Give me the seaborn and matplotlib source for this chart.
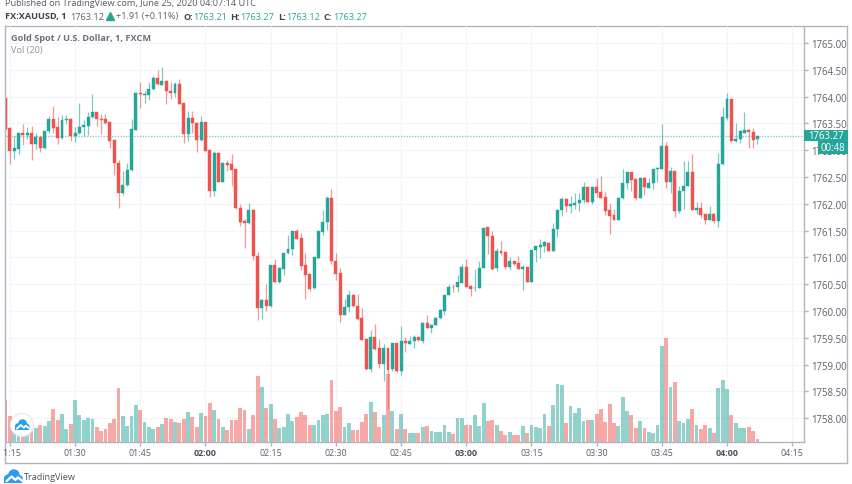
"""Gold spot 1-minute candlesticks with volume, TradingView snapshot style."""

import matplotlib
matplotlib.use("Agg")
import matplotlib.pyplot as plt
from matplotlib.patches import Circle, Rectangle
import numpy as np
import pandas as pd
import seaborn as sns

opens = [
    1763.98, 1763.41, 1762.99, 1763.02, 1763.33, 1763.29, 1763.32, 1763.11, 1763.24, 1763.05,
    1763.35, 1763.58, 1763.43, 1763.22, 1763.57, 1763.58, 1763.27, 1763.32, 1763.43, 1763.46,
    1763.61, 1763.71, 1763.58, 1763.58, 1763.53, 1763.19, 1762.77, 1762.20, 1762.35, 1762.63,
    1763.38, 1764.06, 1764.03, 1764.03, 1764.14, 1764.34, 1764.22, 1764.30, 1764.10, 1764.07,
    1764.24, 1763.88, 1763.30, 1763.60, 1763.50, 1763.19, 1763.52, 1763.00, 1762.23, 1762.94,
    1762.41, 1762.76, 1762.74, 1762.64, 1761.92, 1761.67, 1761.64, 1761.89, 1761.02, 1760.05,
    1760.21, 1760.10, 1760.85, 1760.54, 1760.79, 1761.08, 1761.15, 1761.49, 1761.36, 1760.85,
    1760.69, 1760.42, 1760.99, 1761.48, 1761.66, 1762.11, 1760.94, 1760.70, 1759.93, 1760.08,
    1760.29, 1760.10, 1759.87, 1759.47, 1758.92, 1759.51, 1759.31, 1759.01, 1759.31, 1758.91,
    1759.41, 1758.88, 1759.44, 1759.39, 1759.44, 1759.52, 1759.44, 1759.78, 1759.69, 1759.74,
    1759.87, 1760.00, 1760.30, 1760.45, 1760.44, 1760.53, 1760.82, 1760.47, 1760.42, 1760.43,
    1760.80, 1761.56, 1761.40, 1760.81, 1761.12, 1761.10, 1760.83, 1760.93, 1760.89, 1760.79,
    1760.83, 1760.55, 1761.13, 1761.19, 1761.22, 1761.27, 1761.12, 1761.53, 1761.88, 1762.09,
    1761.95, 1761.98, 1762.01, 1762.07, 1762.32, 1762.04, 1762.32, 1762.22, 1762.13, 1761.88,
    1761.80, 1761.70, 1762.11, 1762.38, 1762.59, 1762.46, 1762.11, 1762.49, 1762.30, 1762.38,
    1762.64, 1762.65, 1763.08, 1762.40, 1762.62, 1761.87, 1762.24, 1762.34, 1762.60, 1761.88,
    1761.92, 1761.81, 1761.70, 1761.81, 1761.67, 1762.74, 1763.60, 1763.96, 1763.17, 1763.20,
    1763.33, 1763.37, 1763.34, 1763.21,
]
highs = [
    1763.98, 1763.43, 1763.27, 1763.33, 1763.49, 1763.43, 1763.45, 1763.33, 1763.27, 1763.35,
    1763.63, 1763.82, 1763.61, 1763.66, 1763.65, 1763.60, 1763.43, 1763.88, 1763.57, 1763.72,
    1764.05, 1763.72, 1763.68, 1763.68, 1763.55, 1763.19, 1762.81, 1762.62, 1762.77, 1763.58,
    1764.08, 1764.27, 1764.11, 1764.27, 1764.38, 1764.50, 1764.55, 1764.31, 1764.27, 1764.28,
    1764.33, 1763.88, 1763.74, 1763.74, 1763.53, 1763.63, 1763.52, 1763.00, 1762.99, 1762.96,
    1762.77, 1762.82, 1762.93, 1762.65, 1762.00, 1761.71, 1762.02, 1761.91, 1761.10, 1760.22,
    1760.51, 1760.86, 1760.97, 1760.82, 1761.09, 1761.42, 1761.49, 1761.53, 1761.46, 1761.09,
    1760.69, 1761.00, 1761.49, 1761.89, 1762.14, 1762.28, 1761.08, 1760.80, 1760.23, 1760.39,
    1760.32, 1760.31, 1760.05, 1759.47, 1759.64, 1759.76, 1759.48, 1759.38, 1759.31, 1759.41,
    1759.41, 1759.72, 1759.52, 1759.53, 1759.56, 1759.52, 1759.79, 1759.93, 1759.76, 1759.89,
    1760.04, 1760.30, 1760.51, 1760.50, 1760.68, 1760.87, 1760.97, 1760.49, 1760.79, 1760.93,
    1761.55, 1761.57, 1761.50, 1761.17, 1761.30, 1761.11, 1761.01, 1760.94, 1761.02, 1760.86,
    1760.83, 1761.14, 1761.22, 1761.35, 1761.30, 1761.29, 1761.64, 1761.88, 1762.13, 1762.11,
    1762.14, 1762.21, 1762.21, 1762.41, 1762.34, 1762.32, 1762.48, 1762.52, 1762.22, 1762.01,
    1761.90, 1762.13, 1762.64, 1762.59, 1762.59, 1762.46, 1762.50, 1762.50, 1762.48, 1762.65,
    1762.68, 1763.48, 1763.16, 1762.68, 1762.62, 1762.34, 1762.79, 1762.79, 1762.92, 1762.04,
    1762.04, 1761.81, 1761.96, 1761.83, 1762.95, 1763.80, 1764.07, 1763.96, 1763.51, 1763.37,
    1763.71, 1763.39, 1763.42, 1763.27,
]
lows = [
    1763.40, 1762.74, 1762.84, 1762.93, 1763.09, 1763.21, 1762.82, 1763.02, 1762.97, 1763.02,
    1763.33, 1763.33, 1763.12, 1763.21, 1763.49, 1763.18, 1763.15, 1763.30, 1763.27, 1763.28,
    1763.60, 1763.46, 1763.30, 1763.49, 1763.05, 1762.53, 1761.92, 1762.17, 1762.33, 1762.61,
    1763.37, 1763.78, 1763.88, 1763.93, 1764.13, 1764.22, 1764.21, 1763.86, 1763.96, 1763.99,
    1763.86, 1763.14, 1763.18, 1763.33, 1762.97, 1763.18, 1762.99, 1762.12, 1762.15, 1762.40,
    1762.40, 1762.62, 1762.34, 1761.90, 1761.59, 1761.18, 1761.62, 1760.96, 1759.84, 1759.85,
    1760.00, 1760.08, 1760.53, 1760.52, 1760.68, 1761.07, 1761.05, 1761.35, 1760.76, 1760.22,
    1760.38, 1760.41, 1760.97, 1761.42, 1761.52, 1760.88, 1760.58, 1759.80, 1759.92, 1759.98,
    1760.07, 1759.84, 1759.45, 1758.89, 1758.86, 1759.28, 1758.94, 1758.70, 1758.17, 1758.88,
    1758.87, 1758.80, 1759.24, 1759.39, 1759.31, 1759.44, 1759.41, 1759.68, 1759.59, 1759.74,
    1759.85, 1759.93, 1760.29, 1760.36, 1760.36, 1760.52, 1760.45, 1760.28, 1760.38, 1760.42,
    1760.80, 1761.07, 1760.77, 1760.74, 1761.05, 1760.79, 1760.77, 1760.86, 1760.78, 1760.39,
    1760.55, 1760.55, 1760.91, 1760.99, 1761.11, 1761.12, 1761.12, 1761.38, 1761.78, 1761.85,
    1761.83, 1761.90, 1761.86, 1762.02, 1762.04, 1761.99, 1762.13, 1762.11, 1761.80, 1761.43,
    1761.69, 1761.69, 1762.09, 1762.28, 1762.23, 1762.08, 1762.11, 1762.17, 1762.29, 1762.28,
    1762.41, 1762.65, 1762.30, 1762.21, 1761.76, 1761.83, 1761.91, 1762.33, 1761.88, 1761.81,
    1761.73, 1761.62, 1761.69, 1761.65, 1761.57, 1762.73, 1763.57, 1763.16, 1763.15, 1763.14,
    1763.33, 1763.05, 1763.05, 1763.12,
]
closes = [
    1763.40, 1762.99, 1763.04, 1763.33, 1763.29, 1763.32, 1763.11, 1763.24, 1763.05, 1763.35,
    1763.58, 1763.42, 1763.22, 1763.57, 1763.58, 1763.27, 1763.32, 1763.43, 1763.47, 1763.61,
    1763.71, 1763.58, 1763.57, 1763.51, 1763.18, 1762.76, 1762.20, 1762.35, 1762.63, 1763.40,
    1764.06, 1764.04, 1764.05, 1764.14, 1764.34, 1764.23, 1764.30, 1764.10, 1764.07, 1764.24,
    1763.87, 1763.30, 1763.60, 1763.50, 1763.19, 1763.52, 1762.99, 1762.23, 1762.94, 1762.41,
    1762.76, 1762.73, 1762.63, 1761.92, 1761.66, 1761.64, 1761.89, 1761.02, 1760.05, 1760.21,
    1760.10, 1760.85, 1760.54, 1760.80, 1761.09, 1761.15, 1761.49, 1761.35, 1760.84, 1760.68,
    1760.41, 1761.00, 1761.49, 1761.66, 1762.11, 1760.93, 1760.69, 1759.93, 1760.08, 1760.29,
    1760.09, 1759.85, 1759.46, 1758.92, 1759.51, 1759.29, 1759.01, 1759.31, 1758.90, 1759.41,
    1758.88, 1759.44, 1759.40, 1759.44, 1759.52, 1759.45, 1759.78, 1759.69, 1759.74, 1759.87,
    1760.01, 1760.30, 1760.45, 1760.44, 1760.54, 1760.82, 1760.45, 1760.41, 1760.43, 1760.80,
    1761.55, 1761.39, 1760.79, 1761.12, 1761.09, 1760.83, 1760.93, 1760.88, 1760.79, 1760.83,
    1760.55, 1761.14, 1761.21, 1761.24, 1761.28, 1761.12, 1761.53, 1761.88, 1762.09, 1761.95,
    1761.99, 1762.02, 1762.08, 1762.32, 1762.04, 1762.32, 1762.21, 1762.11, 1761.87, 1761.78,
    1761.70, 1762.11, 1762.39, 1762.59, 1762.45, 1762.11, 1762.49, 1762.31, 1762.39, 1762.65,
    1762.67, 1763.08, 1762.40, 1762.62, 1761.86, 1762.24, 1762.34, 1762.60, 1761.88, 1761.92,
    1761.80, 1761.70, 1761.81, 1761.67, 1762.74, 1763.61, 1763.96, 1763.17, 1763.21, 1763.35,
    1763.37, 1763.34, 1763.19, 1763.27,
]
volumes = [
    125, 78, 50, 45, 60, 40, 40, 42, 52, 48, 64, 98, 65, 84, 39, 55, 126, 82, 65, 72,
    68, 46, 34, 40, 58, 70, 162, 77, 49, 77, 110, 97, 60, 45, 39, 46, 55, 73, 68, 60,
    56, 68, 91, 76, 46, 88, 77, 118, 97, 68, 46, 35, 65, 65, 102, 97, 40, 81, 199, 165,
    103, 114, 70, 43, 44, 85, 63, 75, 89, 82, 52, 52, 65, 80, 85, 187, 92, 105, 45, 58,
    37, 37, 60, 85, 120, 91, 45, 80, 205, 93, 40, 84, 38, 28, 28, 26, 45, 49, 33, 31,
    31, 52, 31, 25, 73, 73, 52, 52, 80, 49, 118, 64, 65, 52, 34, 22, 30, 22, 22, 47,
    28, 50, 44, 43, 85, 48, 112, 174, 170, 57, 108, 87, 102, 62, 66, 66, 83, 100, 59, 114,
    57, 49, 134, 94, 82, 42, 62, 42, 30, 28, 52, 288, 313, 165, 181, 64, 58, 68, 100, 51,
    40, 52, 43, 28, 162, 186, 159, 80, 58, 43, 43, 45, 33, 9,
]
first_minute = 74  # 01:14
price_ticks = [1765 - 0.5 * i for i in range(15)]
time_ticks = [75 + 15 * i for i in range(13)]

UP = "#26a69a"
DOWN = "#ef5350"
GRID = "#f4f5fa"
TEXT = "#5d606b"
FRAME = "#b2b5be"
BLUE = "#2d9cf0"

W, H = 852, 485
PRICE = 6.9
TIME = 6.4
LABEL = 6.6


def px_axes(fig, left, top, right, bottom, **kws):
    return fig.add_axes([left / W, 1 - bottom / H, (right - left) / W, (bottom - top) / H], **kws)


def draw_logo(ov, cx, cy, s):
    for dx, dy, r in [(-0.27, 0.1, 0.22), (0.02, -0.08, 0.3), (0.29, 0.12, 0.2)]:
        ov.add_patch(Circle((cx + dx * s, cy + dy * s), r * s, color=BLUE, lw=0))
    ov.add_patch(Rectangle((cx - 0.48 * s, cy + 0.05 * s), 0.95 * s, 0.27 * s, color=BLUE, lw=0))
    ov.plot([cx - 0.36 * s, cx - 0.1 * s, cx + 0.1 * s, cx + 0.24 * s, cx + 0.42 * s],
            [cy + 0.24 * s, cy + 0.0 * s, cy + 0.18 * s, cy + 0.05 * s, cy + 0.2 * s],
            color="white", lw=0.09 * s)


def main():
    sns.set_theme(style="white")
    plt.rcParams["font.family"] = ["Open Sans", "DejaVu Sans"]

    df = pd.DataFrame({"open": opens, "high": highs, "low": lows, "close": closes, "volume": volumes})
    df["minute"] = first_minute + df.index
    df["dir"] = np.where(df["close"] >= df["open"], "up", "down")
    df["vol_dir"] = df["dir"]
    df.loc[df.index[-1], "vol_dir"] = "down"  # live bar still painted red in the snapshot

    fig = plt.figure(figsize=(W / 100, H / 100), dpi=100, facecolor="white")

    xlim = (74.0, 257.6)
    ylim = (1757.556, 1765.317)

    # outer frame
    frame = px_axes(fig, 5, 27, 847, 464, zorder=0)
    frame.set_xticks([])
    frame.set_yticks([])
    for side in frame.spines.values():
        side.set_color(FRAME)
        side.set_linewidth(1.0)

    ax = px_axes(fig, 5.5, 27, 803.5, 443, zorder=3)
    ax.patch.set_visible(False)
    ax.set_xlim(xlim)
    ax.set_ylim(ylim)

    # volume pane under the candles
    ax_vol = px_axes(fig, 5.5, 27, 803.5, 443, zorder=2)
    ax_vol.vlines(time_ticks, 0, 1, transform=ax_vol.get_xaxis_transform(), color=GRID, lw=1, zorder=0)
    ax_vol.hlines(price_ticks, 0, 1, transform=ax.get_yaxis_transform(), color=GRID, lw=1, zorder=0)
    sns.barplot(
        data=df, x="minute", y="volume", hue="vol_dir", palette={"up": UP, "down": DOWN},
        native_scale=True, dodge=False, legend=False, errorbar=None, saturation=1,
        width=0.88, alpha=0.5, linewidth=0, ax=ax_vol, zorder=1,
    )
    ax_vol.set_xlim(xlim)
    ax_vol.set_ylim(0, 416 * 3)
    ax_vol.set_axis_off()

    # candles
    colors = df["dir"].map({"up": UP, "down": DOWN}).tolist()
    ax.vlines(df["minute"], df["low"], df["high"], colors=colors, lw=0.9, alpha=0.6, zorder=2)
    body_low = df[["open", "close"]].min(axis=1)
    body_size = (df["close"] - df["open"]).abs()
    ax.bar(df["minute"], body_size, bottom=body_low, width=0.68, color=colors,
           edgecolor=colors, linewidth=0.3, zorder=3)

    # last price line
    last = closes[-1]
    ax.axhline(last, color=UP, lw=1, ls=(0, (1, 1)), alpha=0.55, zorder=1)

    # price scale
    ax.yaxis.tick_right()
    ax.set_yticks(price_ticks, [f"{p:.2f}" for p in price_ticks])
    ax.tick_params(axis="y", length=3, width=1, color=FRAME, labelsize=PRICE, labelcolor=TEXT, pad=2.6)
    ax.set_xticks([])
    for name, side in ax.spines.items():
        side.set_visible(name in ("right", "bottom"))
        side.set_color(FRAME)
        side.set_linewidth(1.0)

    # price and countdown tags on the scale
    trans = ax.get_yaxis_transform()
    ax.add_patch(Rectangle((1.0, last - 0.105), 44 / 798, 0.21, transform=trans, color=UP,
                           clip_on=False, zorder=10, lw=0))
    ax.text(1.0 + 22 / 798, last, f"{last:.2f}", transform=trans, color="white", fontsize=PRICE,
            ha="center", va="center", zorder=11)
    ax.add_patch(Rectangle((1.0 + 14 / 798, last - 0.345), 30 / 798, 0.24, transform=trans, color=UP,
                           clip_on=False, zorder=10, lw=0))
    ax.text(1.0 + 29 / 798, last - 0.225, "00:48", transform=trans, color="white", fontsize=PRICE,
            ha="center", va="center", zorder=11)

    # time scale, a touch wider on the left so the clipped first label keeps its digit
    ax_time = px_axes(fig, 3.5, 443, 803.5, 464, zorder=1)
    ax_time.patch.set_visible(False)
    ax_time.set_xlim(xlim[0] - 2 / 4.348, xlim[1])
    ax_time.set_ylim(1, 0)
    ax_time.set_axis_off()
    ax_time.vlines(time_ticks, 0, 0.17, color=FRAME, lw=1)
    for t in time_ticks:
        bold = t % 60 == 0
        ax_time.text(t, 0.5, f"{t // 60:02d}:{t % 60:02d}", ha="center", va="center", fontsize=TIME,
                     color="#4a4d57" if bold else TEXT, fontweight="bold" if bold else "normal",
                     clip_on=True)

    # header, legend and logos placed in pixels
    ov = fig.add_axes([0, 0, 1, 1], zorder=20)
    ov.set_xlim(0, W)
    ov.set_ylim(H, 0)
    ov.set_axis_off()
    ov.patch.set_visible(False)

    ov.text(5, 4, "Published on TradingView.com, June 25, 2020 04:07:14 UTC",
            fontsize=LABEL, color="#555861", va="center")
    header = [
        (5, "FX:XAUUSD, 1", "#3f424c", "bold"), (70, "1763.12", TEXT, "normal"),
        (116, "+1.91 (+0.11%)", TEXT, "normal"),
        (183, "O:", "#3f424c", "bold"), (193, "1763.21", UP, "normal"),
        (230, "H:", "#3f424c", "bold"), (240, "1763.27", UP, "normal"),
        (278, "L:", "#3f424c", "bold"), (286, "1763.12", UP, "normal"),
        (323, "C:", "#3f424c", "bold"), (333, "1763.27", UP, "normal"),
    ]
    for x, label, color, weight in header:
        ov.text(x, 17, label, fontsize=LABEL, color=color, fontweight=weight, va="center")
    ov.plot([110], [16.5], marker="^", ms=5.5, color=UP, lw=0)

    ov.text(11, 38.5, "Gold Spot / U.S. Dollar, 1, FXCM", fontsize=LABEL, color="#6d707a",
            fontweight="bold", va="center")
    ov.text(11, 50.5, "Vol (20)", fontsize=LABEL, color="#8f929c", va="center")

    ov.add_patch(Circle((22, 426), 11.5, facecolor="white", edgecolor="#e4e6ec", lw=0.8))
    draw_logo(ov, 22.3, 426, 15)
    draw_logo(ov, 13.5, 477.5, 19)
    ov.text(24, 478, "TradingView", fontsize=LABEL, color="#50535e", va="center")

    fig.savefig("out.png", dpi=100)
    plt.close(fig)


if __name__ == "__main__":
    main()
